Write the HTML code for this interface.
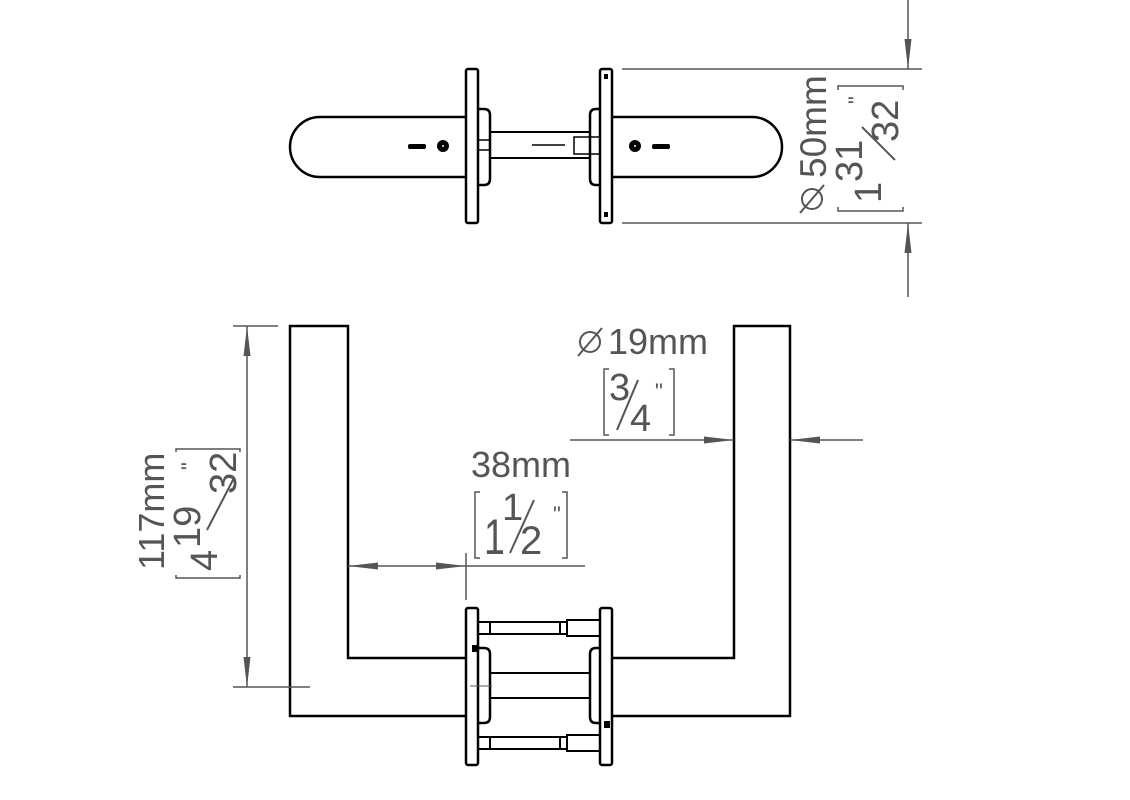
<!DOCTYPE html>
<html><head><meta charset="utf-8"><style>
html,body{margin:0;padding:0;background:#fff}
svg{display:block}
text{font-family:"Liberation Sans",sans-serif;fill:#555}
</style></head><body>
<svg width="1130" height="800" viewBox="0 0 1130 800" xmlns="http://www.w3.org/2000/svg">
<defs>
<marker id="a" viewBox="0 0 30 10" refX="30" refY="5" markerWidth="30" markerHeight="10" markerUnits="userSpaceOnUse" orient="auto"><path d="M0,1.5 L30,5 L0,8.5z" fill="#555"/></marker>
</defs>
<g fill="none" stroke="#000" stroke-width="2.5">
<path d="M466,117 H320 A30,30 0 0 0 320,177 H466"/>
<path d="M612,117 H752 A30,30 0 0 1 752,177 H612"/>
<rect x="466" y="69" width="12" height="154" rx="2"/>
<rect x="600" y="69" width="12" height="154" rx="2"/>
<path d="M478,109 H484 Q490,109 490,115 V179 Q490,185 484,185 H478"/>
<path d="M600,109 H596 Q590,109 590,115 V179 Q590,185 596,185 H600"/>
<line x1="490" y1="132" x2="590" y2="132" stroke-width="2"/>
<line x1="490" y1="158" x2="590" y2="158" stroke-width="2"/>
<rect x="478" y="140" width="12" height="10" stroke-width="1.5"/>
<rect x="574" y="137" width="26" height="17" stroke-width="1.5"/>
<line x1="532" y1="145" x2="565" y2="145" stroke-width="1.5"/>
</g>
<circle cx="443" cy="146" r="6" fill="#000"/><circle cx="443" cy="146" r="1" fill="#fff"/>
<circle cx="635" cy="146" r="6" fill="#000"/><circle cx="635" cy="146" r="1" fill="#fff"/>
<rect x="408" y="144" width="18" height="5" rx="2" fill="#000"/>
<rect x="652" y="144" width="18" height="5" rx="2" fill="#000"/>
<rect x="604" y="74" width="4" height="5" fill="#000"/><rect x="604" y="212" width="4" height="5" fill="#000"/>
<g stroke="#555" stroke-width="1.5" fill="none">
<line x1="622" y1="69" x2="922" y2="69"/>
<line x1="622" y1="223" x2="922" y2="223"/>
<line x1="908" y1="0" x2="908" y2="69" marker-end="url(#a)"/>
<line x1="908" y1="297" x2="908" y2="223" marker-end="url(#a)"/>
<path d="M838,90 V86 H903 V90"/>
<path d="M838,207 V211 H903 V207"/>
<circle cx="812" cy="199" r="10" stroke-width="2"/>
<line x1="800" y1="213" x2="824" y2="185" stroke-width="2"/>
<line x1="895" y1="160" x2="862" y2="127" stroke-width="2"/>
</g>
<text transform="translate(826,178) rotate(-90)" font-size="37">50mm</text>
<text transform="translate(881,203) rotate(-90)" font-size="38">1</text>
<text transform="translate(862,182) rotate(-90)" font-size="38">31</text>
<text transform="translate(898,142) rotate(-90)" font-size="38">32</text>
<text transform="translate(864,104) rotate(-90)" font-size="22">"</text>
<g fill="none" stroke="#000" stroke-width="2.5">
<path d="M466,716 H290 V326 H348 V658 H466"/>
<path d="M612,716 H790 V326 H734 V658 H612"/>
<rect x="466" y="608" width="12" height="157" rx="2"/>
<rect x="600" y="608" width="12" height="157" rx="2"/>
<path d="M478,648 H484 Q490,648 490,654 V717 Q490,723 484,723 H478"/>
<path d="M600,648 H596 Q590,648 590,654 V717 Q590,723 596,723 H600"/>
<line x1="490" y1="673" x2="590" y2="673" stroke-width="2"/>
<line x1="490" y1="698" x2="590" y2="698" stroke-width="2"/>
<g stroke-width="2">
<rect x="478" y="622" width="12" height="12"/><rect x="490" y="622" width="70" height="12"/><rect x="560" y="622" width="7" height="12"/><rect x="567" y="620" width="33" height="16"/>
<rect x="478" y="737" width="12" height="12"/><rect x="490" y="737" width="70" height="12"/><rect x="560" y="737" width="7" height="12"/><rect x="567" y="735" width="33" height="16"/>
</g>
</g>
<rect x="472" y="645" width="6" height="7" fill="#000"/>
<rect x="604" y="721" width="6" height="7" fill="#000"/>
<g stroke="#555" stroke-width="1.5" fill="none">
<line x1="233" y1="326" x2="278" y2="326"/>
<line x1="233" y1="687" x2="310" y2="687"/>
<line x1="247" y1="500" x2="247" y2="326" marker-end="url(#a)"/>
<line x1="247" y1="500" x2="247" y2="687" marker-end="url(#a)"/>
<path d="M176,452 V449 H240 V452"/>
<path d="M176,575 V578 H240 V575"/>
<line x1="207" y1="530" x2="234" y2="478" stroke-width="2"/>
<line x1="405" y1="566" x2="348" y2="566" marker-end="url(#a)"/>
<line x1="405" y1="566" x2="466" y2="566" marker-end="url(#a)"/>
<line x1="466" y1="566" x2="585" y2="566"/>
<line x1="466" y1="553" x2="466" y2="600"/>
<line x1="570" y1="440" x2="734" y2="440" marker-end="url(#a)"/>
<line x1="863" y1="440" x2="790" y2="440" marker-end="url(#a)"/>
<path d="M480,492 H475 V558 H480"/><path d="M562,492 H567 V558 H562"/>
<path d="M609,369 H604 V435 H609"/><path d="M669,369 H674 V435 H669"/>
<line x1="470" y1="686" x2="492" y2="686" stroke-width="1"/>
<line x1="510" y1="553" x2="534" y2="500" stroke-width="2"/>
<line x1="617" y1="430" x2="638" y2="380" stroke-width="2"/>
<circle cx="590" cy="342" r="10" stroke-width="2"/>
<line x1="578" y1="356" x2="602" y2="328" stroke-width="2"/>
</g>
<text transform="translate(164,570) rotate(-90)" font-size="36">117mm</text>
<text transform="translate(217,571) rotate(-90)" font-size="38">4</text>
<text transform="translate(200,548) rotate(-90)" font-size="38">19</text>
<text transform="translate(236,494) rotate(-90)" font-size="38">32</text>
<text transform="translate(197,470) rotate(-90)" font-size="22">"</text>
<text x="471" y="477" font-size="36">38mm</text>
<text x="484" y="554" font-size="50" transform="translate(484,554) scale(0.75,1) translate(-484,-554)">1</text>
<text x="502" y="520" font-size="38">1</text>
<text x="520" y="554" font-size="40">2</text>
<text x="553" y="522" font-size="22">"</text>
<text x="608" y="354" font-size="36">19mm</text>
<text x="609" y="400" font-size="38">3</text>
<text x="630" y="431" font-size="38">4</text>
<text x="655" y="399" font-size="22">"</text>
</svg>
</body></html>
